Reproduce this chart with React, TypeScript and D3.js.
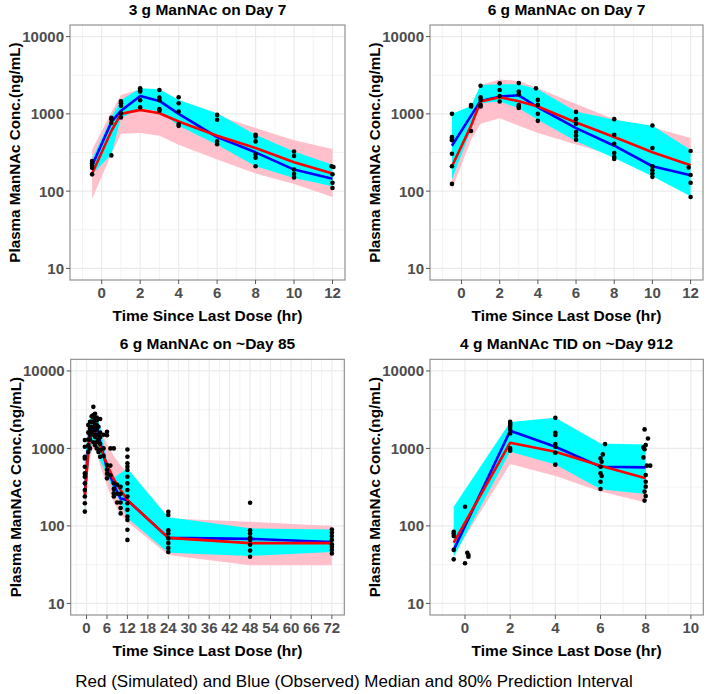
import React from 'react'
import * as d3 from 'd3'

type Pt = [number, number]

// y axis (shared by all panels)
const yTicks = [10, 100, 1000, 10000]
const yMinor = [Math.pow(10, 1.5), Math.pow(10, 2.5), Math.pow(10, 3.5)]

// ---- 3 g ManNAc on Day 7
const p1Times = [-0.5, 0.5, 1, 2, 3, 4, 6, 8, 10, 12]
const p1SimLo = [80, 300, 552, 564, 521, 399, 256, 169, 124, 84]
const p1SimHi = [344, 1050, 1760, 2080, 2000, 1450, 950, 654, 454, 351]
const p1ObsLo = [164, 300, 880, 1182, 1071, 700, 399, 210, 148, 116]
const p1ObsHi = [261, 906, 1515, 2140, 2080, 1515, 1020, 537, 327, 220]
const p1SimMed = [169, 600, 1000, 1126, 1020, 796, 521, 361, 236, 169]
const p1ObsMed = [215, 780, 1100, 1700, 1470, 1000, 500, 318, 190, 145]
const p1Points: Pt[] = [
  [-0.5, 245], [-0.5, 230], [-0.5, 215], [-0.5, 200], [-0.5, 165],
  [0.5, 890], [0.5, 850], [0.5, 760], [0.5, 290],
  [1, 1450], [1, 1370], [1, 1275], [1, 1020], [1, 900],
  [2, 2140], [2, 2040], [2, 1940], [2, 1500], [2, 1220],
  [3, 2040], [3, 1620], [3, 1500], [3, 1150], [3, 1100],
  [4, 1640], [4, 1370], [4, 1070], [4, 740], [4, 700],
  [6, 970], [6, 840], [6, 440], [6, 405],
  [8, 535], [8, 510], [8, 440], [8, 300], [8, 270], [8, 210],
  [10, 325], [10, 285], [10, 190], [10, 167], [10, 150],
  [11.95, 210], [12.05, 205], [12, 165], [12, 128], [12, 110],
]

// ---- 6 g ManNAc on Day 7
const p2Times = [-0.5, 0.5, 1, 2, 3, 4, 6, 8, 10, 12]
const p2SimLo = [105, 462, 743, 880, 700, 564, 400, 288, 210, 141]
const p2SimHi = [650, 1200, 2362, 2793, 2660, 2140, 1345, 854, 673, 486]
const p2ObsLo = [141, 622, 1371, 1443, 1183, 837, 441, 269, 156, 86]
const p2ObsHi = [1000, 1268, 2360, 2410, 2410, 2080, 1071, 837, 700, 344]
const p2SimMed = [210, 700, 1443, 1640, 1456, 1243, 773, 501, 318, 216]
const p2ObsMed = [387, 950, 1470, 1670, 1740, 1218, 653, 387, 210, 161]
const p2Points: Pt[] = [
  [-0.5, 1000], [-0.5, 500], [-0.5, 472], [-0.5, 455], [-0.5, 305], [-0.5, 210], [-0.5, 124],
  [0.5, 1300], [0.5, 1250], [0.5, 600],
  [1, 2315], [1, 1640], [1, 1515], [1, 1306], [1, 1243],
  [2, 2483], [2, 2040], [2, 1700], [2, 1443],
  [3, 2500], [3, 1950], [3, 1800], [3, 1300], [3, 1250], [3, 1190],
  [3.9, 2140], [4, 1515], [4, 1306], [4, 1000], [4, 812],
  [6, 1061], [6, 854], [6, 744], [6, 581], [6, 521], [6, 463],
  [8, 854], [8, 537], [8, 411], [8, 311], [8, 277], [8, 261],
  [10, 708], [10, 361], [10, 210], [10, 187], [10, 169], [10, 153],
  [12, 330], [11.9, 202], [12, 162], [12, 128], [12, 84],
]

// ---- 6 g ManNAc on ~Day 85
const p3Times = [-0.5, 0.5, 1, 2, 3, 4, 6, 8, 10, 12, 24, 48, 72]
const p3SimLo = [120, 500, 800, 1000, 900, 600, 330, 200, 140, 112, 42, 31, 31]
const p3SimHi = [500, 1800, 2300, 2700, 2500, 1800, 1150, 800, 600, 480, 125, 113, 100]
const p3ObsLo = [150, 600, 900, 1200, 1100, 700, 450, 280, 200, 126, 45, 41, 46]
const p3ObsHi = [700, 2000, 2400, 2800, 2600, 1900, 700, 420, 480, 552, 129, 93, 90]
const p3SimMed = [240, 900, 1350, 1650, 1450, 1050, 620, 400, 290, 215, 70, 60, 60]
const p3ObsMed = [260, 1000, 1500, 1850, 1900, 1200, 560, 340, 225, 215, 70, 68, 62]
const p3Points: Pt[] = [
  [-0.5, 1280], [-0.5, 1050], [-0.5, 780], [-0.5, 743], [-0.5, 581], [-0.5, 476],
  [-0.5, 431], [-0.5, 354], [-0.5, 291], [-0.5, 239], [-0.5, 196], [-0.5, 153],
  [0.5, 1300], [0.5, 1600], [0.5, 2000], [0.5, 1100], [0.5, 900],
  [1, 2200], [1, 1800], [1, 1500], [1, 1700], [1, 1300], [1, 1000],
  [1.5, 2600], [1.5, 2200], [1.5, 1900], [1.5, 1650],
  [2, 3440], [2, 2700], [2, 2500], [2, 2200], [2, 1900], [2, 1500], [2, 1200],
  [2.5, 2800], [2.5, 2300], [2.5, 2000], [2.5, 1700], [2.5, 1400], [2.5, 1100],
  [3, 2500], [3, 2300], [3, 2000], [3, 1800], [3, 1500], [3, 1200], [3, 1000],
  [3.5, 2400], [3.5, 1900], [3.5, 1300], [3.5, 900],
  [4, 2400], [4, 1600], [4, 1400], [4, 1150], [4, 950], [4, 780],
  [5, 1500], [5, 1000], [5, 800],
  [6, 1640], [6, 1480], [6, 610], [6, 530], [6, 470], [6, 411],
  [7, 1000], [7, 600], [7, 450],
  [8, 1000], [8, 355], [8, 300], [8, 263], [8, 239],
  [9, 340], [9, 260], [9, 200],
  [10, 320], [10, 260], [10, 200], [10, 170], [10, 145],
  [12, 970], [12, 782], [12, 641], [12, 581], [12, 526], [12, 431], [12, 354], [12, 291],
  [12, 239], [12, 196], [12, 161], [12, 132], [12, 119], [12, 89], [12, 66],
  [24, 152], [24, 138], [24, 88], [24, 80], [24, 69], [24, 60], [24, 52], [24, 46],
  [48, 199], [48, 88], [48, 80], [48, 71], [48, 66], [48, 57], [48, 48], [48, 40],
  [72, 90], [72, 82], [72, 74], [72, 66], [72, 58], [72, 54], [72, 49], [72, 44],
]

// ---- 4 g ManNAc TID on ~Day 912
const p4Times = [-0.5, 2, 4, 6, 8]
const p4SimLo = [42, 628, 441, 277, 200]
const p4SimHi = [100, 1050, 900, 700, 600]
const p4ObsLo = [40, 906, 620, 297, 258]
const p4ObsHi = [177, 2200, 2480, 1160, 1125]
const p4SimMed = [61, 1183, 906, 599, 411]
const p4ObsMed = [49, 1690, 1050, 581, 569]
const p4Points: Pt[] = [
  [-0.5, 84], [-0.5, 80], [-0.5, 74], [-0.5, 49], [-0.5, 37],
  [0, 177], [0, 33], [0.1, 45], [0.15, 42], [0.15, 40],
  [2, 2200], [2, 2100], [2, 2000], [2, 1900], [2, 1760], [2, 1560], [2, 1000], [2, 933],
  [4, 2480], [4, 1590], [4, 1490], [4, 1137], [4, 1050], [4, 880], [4, 617],
  [6.2, 1137], [6.1, 837], [6, 743], [6.05, 673], [6, 581], [6, 476], [6.05, 441], [6, 372], [6, 299],
  [7.95, 1760], [8.1, 1345], [8, 1104], [7.9, 1030], [7.95, 975], [7.9, 766], [8.05, 599], [8.2, 599],
  [8, 454], [8, 372], [8, 321], [7.95, 277], [8, 243], [7.95, 212],
]

const xTicks12 = [0, 2, 4, 6, 8, 10, 12]
const xMinor12 = [-1, 1, 3, 5, 7, 9, 11]
const xTicks72 = [0, 6, 12, 18, 24, 30, 36, 42, 48, 54, 60, 66, 72]
const xMinor72 = [-3, 3, 9, 15, 21, 27, 33, 39, 45, 51, 57, 63, 69, 75]
const xTicks10 = [0, 2, 4, 6, 8, 10]
const xMinor10 = [-1, 1, 3, 5, 7, 9]

const FONT = "'Liberation Sans', Arial, Helvetica, sans-serif"

type PanelProps = {
  title: string
  left: number; right: number; top: number; bottom: number
  xDom: [number, number]
  xTicks: number[]; xMinor: number[]
  times: number[]
  simLo: number[]; simHi: number[]; obsLo: number[]; obsHi: number[]
  simMed: number[]; obsMed: number[]
  points: Pt[]
}

function Panel(p: PanelProps) {
  const x = d3.scaleLinear().domain(p.xDom).range([p.left, p.right])
  const y = d3.scaleLog().domain([Math.pow(10, 0.85), Math.pow(10, 4.15)]).range([p.bottom, p.top])
  const idx = p.times.map((_, i) => i)
  const band = (lo: number[], hi: number[]) =>
    d3.area<number>().x(i => x(p.times[i])).y0(i => y(lo[i])).y1(i => y(hi[i]))(idx) || ''
  const line = (v: number[]) => d3.line<number>().x(i => x(p.times[i])).y(i => y(v[i]))(idx) || ''
  const cx = (p.left + p.right) / 2
  const cy = (p.top + p.bottom) / 2

  return (
    <g>
      <rect x={p.left} y={p.top} width={p.right - p.left} height={p.bottom - p.top} fill="#fff" />
      {p.xMinor.map(v => (
        <line key={'xm' + v} x1={x(v)} x2={x(v)} y1={p.top} y2={p.bottom} stroke="#EBEBEB" strokeWidth={0.6} />
      ))}
      {yMinor.map(v => (
        <line key={'ym' + v} x1={p.left} x2={p.right} y1={y(v)} y2={y(v)} stroke="#EBEBEB" strokeWidth={0.6} />
      ))}
      {p.xTicks.map(v => (
        <line key={'xg' + v} x1={x(v)} x2={x(v)} y1={p.top} y2={p.bottom} stroke="#EBEBEB" strokeWidth={1.2} />
      ))}
      {yTicks.map(v => (
        <line key={'yg' + v} x1={p.left} x2={p.right} y1={y(v)} y2={y(v)} stroke="#EBEBEB" strokeWidth={1.2} />
      ))}
      <path d={band(p.simLo, p.simHi)} fill="#FFC0CB" />
      <path d={band(p.obsLo, p.obsHi)} fill="#00FFFF" />
      <path d={line(p.obsMed)} fill="none" stroke="#0000FF" strokeWidth={2.6} strokeLinejoin="round" />
      <path d={line(p.simMed)} fill="none" stroke="#FF0000" strokeWidth={2.6} strokeLinejoin="round" />
      {p.points.map((d, i) => (
        <circle key={'pt' + i} cx={x(d[0])} cy={y(d[1])} r={2.3} fill="#000" />
      ))}
      <rect x={p.left} y={p.top} width={p.right - p.left} height={p.bottom - p.top}
        fill="none" stroke="#888" strokeWidth={1.1} />
      {p.xTicks.map(v => (
        <g key={'xt' + v}>
          <line x1={x(v)} x2={x(v)} y1={p.bottom} y2={p.bottom + 4} stroke="#555" strokeWidth={1} />
          <text x={x(v)} y={p.bottom + 18} textAnchor="middle" fontSize={15} fontWeight="bold" fill="#4D4D4D">{v}</text>
        </g>
      ))}
      {yTicks.map(v => (
        <g key={'yt' + v}>
          <line x1={p.left - 4} x2={p.left} y1={y(v)} y2={y(v)} stroke="#555" strokeWidth={1} />
          <text x={p.left - 6} y={y(v)} dy="0.36em" textAnchor="end" fontSize={15} fontWeight="bold" fill="#4D4D4D">{v}</text>
        </g>
      ))}
      <text x={cx} y={p.top - 10} textAnchor="middle" fontSize={15.5} fontWeight="bold" fill="#000">{p.title}</text>
      <text x={cx} y={p.bottom + 41} textAnchor="middle" fontSize={15.5} fontWeight="bold" fill="#000">
        Time Since Last Dose (hr)
      </text>
      <text transform={`translate(${p.left - 50},${cy}) rotate(-90)`} textAnchor="middle" fontSize={15.2}
        fontWeight="bold" fill="#000">Plasma ManNAc Conc.(ng/mL)</text>
    </g>
  )
}

export default function App() {
  return (
    <svg width={708} height={694} style={{ position: 'absolute', left: 0, top: 0, background: '#fff' }}
      fontFamily={FONT}>
      <rect width={708} height={694} fill="#fff" />
      <Panel title="3 g ManNAc on Day 7" left={70} right={345} top={25} bottom={280}
        xDom={[-1.65, 12.65]} xTicks={xTicks12} xMinor={xMinor12}
        times={p1Times} simLo={p1SimLo} simHi={p1SimHi} obsLo={p1ObsLo} obsHi={p1ObsHi}
        simMed={p1SimMed} obsMed={p1ObsMed} points={p1Points} />
      <Panel title="6 g ManNAc on Day 7" left={430} right={703} top={25} bottom={280}
        xDom={[-1.65, 12.65]} xTicks={xTicks12} xMinor={xMinor12}
        times={p2Times} simLo={p2SimLo} simHi={p2SimHi} obsLo={p2ObsLo} obsHi={p2ObsHi}
        simMed={p2SimMed} obsMed={p2ObsMed} points={p2Points} />
      <Panel title="6 g ManNAc on ~Day 85" left={70.7} right={344.3} top={359.3} bottom={615}
        xDom={[-4.65, 75.65]} xTicks={xTicks72} xMinor={xMinor72}
        times={p3Times} simLo={p3SimLo} simHi={p3SimHi} obsLo={p3ObsLo} obsHi={p3ObsHi}
        simMed={p3SimMed} obsMed={p3ObsMed} points={p3Points} />
      <Panel title="4 g ManNAc TID on ~Day 912" left={430} right={703.3} top={359.3} bottom={615}
        xDom={[-1.55, 10.55]} xTicks={xTicks10} xMinor={xMinor10}
        times={p4Times} simLo={p4SimLo} simHi={p4SimHi} obsLo={p4ObsLo} obsHi={p4ObsHi}
        simMed={p4SimMed} obsMed={p4ObsMed} points={p4Points} />
      <text x={354} y={687} textAnchor="middle" fontSize={17} fill="#000">
        Red (Simulated) and Blue (Observed) Median and 80% Prediction Interval
      </text>
    </svg>
  )
}
